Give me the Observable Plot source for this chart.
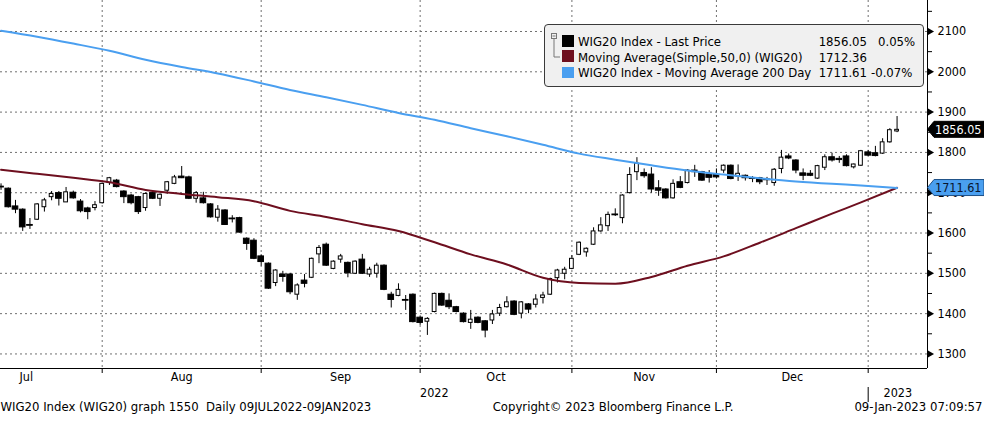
<!DOCTYPE html>
<html>
<head>
<meta charset="utf-8">
<script src="https://cdn.jsdelivr.net/npm/d3@7"></script>
<script src="https://cdn.jsdelivr.net/npm/@observablehq/plot@0.6"></script>
<style>
  html, body { margin: 0; padding: 0; background: #fff; }
  #wrap { position: relative; width: 984px; height: 421px; overflow: hidden;
          font-family: "DejaVu Sans Condensed", "DejaVu Sans", sans-serif; }
  #wrap svg.plot { position: absolute; left: 0; top: 0; }
  #legend { position: absolute; left: 544px; top: 24px; width: 378px; height: 61px;
            background: #f0f0f0; border: 1px solid #3a3a3a; border-radius: 4px;
            font-size: 13px; color: #000; }
  #legend .sw { position: absolute; left: 17px; width: 11.5px; height: 11.5px; }
  #legend .txt { position: absolute; left: 33px; height: 16px; line-height: 16px; white-space: nowrap; }
  #legend .val { position: absolute; right: 56px; height: 16px; line-height: 16px; white-space: nowrap; text-align: right; }
  #legend .pct { position: absolute; height: 16px; line-height: 16px; white-space: nowrap; }
  #legend svg { position: absolute; left: 6px; top: 8px; }
</style>
</head>
<body>
<div id="wrap"></div>
<script>
// ---------------- data ----------------
const candleDates = [
  "2022-07-12","2022-07-13","2022-07-14","2022-07-15","2022-07-18","2022-07-19","2022-07-20","2022-07-21","2022-07-22","2022-07-25","2022-07-26","2022-07-27","2022-07-28","2022-07-29",
  "2022-08-01","2022-08-02","2022-08-03","2022-08-04","2022-08-05","2022-08-08","2022-08-09","2022-08-10","2022-08-11","2022-08-12","2022-08-16","2022-08-17","2022-08-18","2022-08-19","2022-08-22","2022-08-23","2022-08-24","2022-08-25","2022-08-26","2022-08-29","2022-08-30","2022-08-31",
  "2022-09-01","2022-09-02","2022-09-05","2022-09-06","2022-09-07","2022-09-08","2022-09-09","2022-09-12","2022-09-13","2022-09-14","2022-09-15","2022-09-16","2022-09-19","2022-09-20","2022-09-21","2022-09-22","2022-09-23","2022-09-26","2022-09-27","2022-09-28","2022-09-29","2022-09-30",
  "2022-10-03","2022-10-04","2022-10-05","2022-10-06","2022-10-07","2022-10-10","2022-10-11","2022-10-12","2022-10-13","2022-10-14","2022-10-17","2022-10-18","2022-10-19","2022-10-20","2022-10-21","2022-10-24","2022-10-25","2022-10-26","2022-10-27","2022-10-28","2022-10-31",
  "2022-11-02","2022-11-03","2022-11-04","2022-11-07","2022-11-08","2022-11-09","2022-11-10","2022-11-14","2022-11-15","2022-11-16","2022-11-17","2022-11-18","2022-11-21","2022-11-22","2022-11-23","2022-11-24","2022-11-25","2022-11-28","2022-11-29","2022-11-30",
  "2022-12-01","2022-12-02","2022-12-05","2022-12-06","2022-12-07","2022-12-08","2022-12-09","2022-12-12","2022-12-13","2022-12-14","2022-12-15","2022-12-16","2022-12-19","2022-12-20","2022-12-21","2022-12-22","2022-12-23","2022-12-27","2022-12-28","2022-12-29","2022-12-30",
  "2023-01-02","2023-01-03","2023-01-04","2023-01-05","2023-01-09"
];
const openPx = [
  1715,1710,1666,1658,1620,1633,1664,1689,1699,1676,1700,1678,1661,1662,
  1674,1724,1730,1703,1693,1689,1662,1699,1685,1705,1722,1740,1738,1685,1686,1671,1638,1656,1636,1637,1586,1581,
  1542,1524,1476,1497,1497,1447,1482,1489,1547,1571,1511,1534,1526,1499,1534,1497,1499,1519,1447,1444,1434,1447,
  1390,1380,1404,1449,1432,1416,1400,1377,1390,1381,1383,1400,1416,1430,1400,1423,1422,1439,1447,1488,1499,
  1511,1546,1552,1571,1604,1617,1646,1637,1699,1751,1749,1745,1711,1708,1686,1726,1724,1755,1751,1745,
  1744,1755,1767,1740,1742,1736,1736,1733,1724,1759,1790,1780,1748,1747,1735,1762,1788,1784,1790,1763,1767,
  1800,1798,1797,1825,1852
];
const highPx = [
  1722,1712,1681,1660,1636,1673,1686,1703,1703,1713,1704,1683,1664,1678,
  1724,1738,1733,1705,1696,1691,1699,1702,1697,1728,1743,1765,1741,1703,1701,1673,1668,1658,1643,1639,1588,1586,
  1546,1526,1509,1505,1500,1474,1497,1538,1569,1575,1531,1547,1528,1531,1547,1515,1525,1521,1453,1474,1445,1449,
  1392,1390,1451,1451,1449,1418,1402,1408,1392,1383,1408,1423,1442,1432,1430,1425,1447,1453,1488,1510,1515,
  1544,1578,1563,1613,1638,1652,1660,1695,1762,1787,1759,1762,1730,1710,1732,1740,1757,1768,1753,1755,
  1759,1769,1769,1769,1744,1740,1738,1738,1760,1805,1796,1782,1759,1755,1768,1794,1798,1790,1794,1771,1805,
  1805,1815,1834,1859,1889
];
const lowPx = [
  1706,1662,1648,1604,1609,1631,1652,1680,1667,1676,1684,1650,1633,1655,
  1672,1718,1712,1673,1670,1646,1654,1683,1666,1696,1720,1735,1683,1674,1672,1637,1627,1619,1625,1600,1557,1534,
  1518,1460,1467,1478,1447,1433,1464,1487,1524,1517,1509,1525,1489,1497,1497,1490,1488,1457,1414,1442,1408,1377,
  1371,1346,1402,1418,1410,1402,1377,1361,1375,1340,1373,1393,1414,1395,1387,1400,1414,1424,1445,1476,1484,
  1509,1544,1540,1569,1602,1604,1641,1623,1697,1730,1736,1699,1691,1684,1684,1710,1722,1738,1728,1724,
  1734,1748,1732,1728,1729,1725,1720,1718,1716,1747,1782,1747,1730,1740,1733,1755,1776,1773,1764,1759,1765,
  1790,1789,1795,1823,1849
];
const closePx = [
  1713,1664,1658,1614,1618,1671,1681,1697,1685,1701,1686,1654,1652,1669,
  1722,1736,1714,1689,1674,1652,1697,1685,1695,1726,1738,1736,1685,1699,1674,1639,1658,1620,1634,1601,1573,1536,
  1528,1462,1507,1491,1453,1470,1474,1536,1563,1519,1529,1542,1500,1529,1499,1509,1519,1459,1434,1459,1432,1379,
  1377,1387,1449,1420,1416,1404,1379,1385,1377,1358,1398,1414,1428,1397,1428,1410,1435,1445,1486,1507,1509,
  1536,1576,1561,1604,1619,1645,1644,1693,1744,1772,1741,1708,1705,1686,1722,1712,1755,1751,1730,1737,
  1738,1767,1734,1747,1736,1734,1726,1731,1757,1787,1785,1755,1742,1742,1766,1788,1780,1781,1766,1770,1803,
  1792,1791,1825,1855.1,1856.05
];
const maDates = ["2022-07-12","2022-07-19","2022-07-26","2022-08-02","2022-08-09","2022-08-17","2022-08-24","2022-08-31","2022-09-07","2022-09-14","2022-09-21","2022-09-28","2022-10-05","2022-10-12","2022-10-19","2022-10-26","2022-11-03","2022-11-10","2022-11-18","2022-11-25","2022-12-02","2022-12-09","2022-12-16","2022-12-23","2022-12-30","2023-01-09"];
const ma50 = [1757,1747,1737,1726,1707,1697,1689,1679,1655,1640,1622,1605,1577,1547,1522,1489,1476,1474,1491,1519,1542,1576,1612,1648,1676,1712.36];
const ma200 = [2102,2087,2070,2052,2030,2012,1996,1976,1955,1937,1918,1898,1881,1860,1840,1819,1797,1782,1768,1755,1745,1736,1728,1722,1718,1711.61];
const holidays = ["2022-08-15","2022-11-01","2022-11-11","2022-12-26","2023-01-06"];
const yTicks = [1300,1400,1500,1600,1700,1800,1900,2000,2100];
const yMinorTicks = [1350,1450,1550,1650,1750,1850,1950,2050,2150];
const seriesNames = ["WIG20 Index - Last Price","Moving Average(Simple,50,0) (WIG20)","WIG20 Index - Moving Average 200 Day"];
const seriesColors = ["#000000","#6e0f1f","#4a9ff0"];
const pctChanges = ["0.05%", "", "-0.07%"];
const footerLeft = "WIG20 Index (WIG20) graph 1550  Daily 09JUL2022-09JAN2023";
const footerMid = "Copyright\u00A9 2023 Bloomberg Finance L.P.";
const footerRight = "09-Jan-2023 07:09:57";

// -------------- trading calendar (weekdays minus exchange holidays) --------------
const hol = new Set(holidays);
const calendar = d3.utcDays(new Date("2022-07-01"), new Date("2023-01-10"))
  .filter(d => d.getUTCDay() % 6 !== 0)
  .map(d => d.toISOString().slice(0, 10))
  .filter(s => !hol.has(s));
const idxOf = new Map(calendar.map((s, i) => [s, i]));
const monthStarts = calendar.map((s, i) => [s, i]).filter(([s], i, a) => i === 0 || s.slice(0, 7) !== a[i - 1][0].slice(0, 7));
const xLo = 6.926, xHi = 135.21;
const janStart = monthStarts.find(([s]) => s.startsWith("2023-01"))[1];
const monthLabels = monthStarts.slice(0, -1).map(([s, i], k) => ({
  name: d3.utcFormat("%b")(new Date(s)), mid: (i + monthStarts[k + 1][1]) / 2
}));
const yearLabels = [{name: "2022", mid: (xLo + janStart) / 2}, {name: "2023", mid: (janStart + xHi) / 2}];

const candles = candleDates.map((d, k) => ({i: idxOf.get(d), o: openPx[k], h: highPx[k], l: lowPx[k], c: closePx[k]}));
const up = candles.filter(d => d.c >= d.o);
const down = candles.filter(d => d.c < d.o);
const ma50Data = maDates.map((d, k) => ({i: idxOf.get(d), v: ma50[k]}));
const ma200Data = maDates.map((d, k) => ({i: idxOf.get(d), v: ma200[k]}));

const lastPrice = closePx[closePx.length - 1];
const lastMa50 = ma50[ma50.length - 1];
const lastMa200 = ma200[ma200.length - 1];
const FONT = '"DejaVu Sans Condensed", "DejaVu Sans", sans-serif';

const callouts = [
  {value: lastPrice, fill: "#000", stroke: "#000", text: "#fff"},
  {value: lastMa200, fill: "#4a9ff0", stroke: "#1d4f86", text: "#08152e"}
];

function calloutMark(index, scales, values, dims) {
  const g = d3.create("svg:g");
  const x0 = dims.width - dims.marginRight;
  for (const c of callouts) {
    const y = scales.y(c.value);
    g.append("path")
      .attr("d", `M${x0 + 0.5},${y}L${x0 + 7},${y - 8}H${dims.width}V${y + 8}H${x0 + 7}Z`)
      .attr("fill", c.fill).attr("stroke", c.stroke).attr("stroke-width", 1);
    g.append("text")
      .attr("x", x0 + 8).attr("y", y).attr("dy", "0.36em")
      .attr("text-anchor", "start")
      .attr("fill", c.text).attr("font-size", 12.5).attr("font-family", FONT)
      .text(c.value.toFixed(2));
  }
  return g.node();
}

const H = 421, W = 984, mR = 57, mB = 53;
const frameH = H - mB;

const chart = Plot.plot({
  width: W, height: H,
  marginTop: 0, marginLeft: 0, marginRight: mR, marginBottom: mB,
  x: {type: "linear", domain: [xLo, xHi], axis: null},
  y: {type: "linear", domain: [1263.9, 2176.9], axis: null},
  style: {fontFamily: FONT, fontSize: "12.5px", color: "#000", background: "transparent", overflow: "visible"},
  marks: [
    Plot.gridY(yTicks, {stroke: "#707070", strokeOpacity: 1, strokeDasharray: "2,3"}),
    Plot.gridX(monthStarts.map(d => d[1]), {stroke: "#707070", strokeOpacity: 1, strokeDasharray: "2,3"}),
    // candles
    Plot.ruleX(candles, {x: "i", y1: "l", y2: "h", stroke: "#000", strokeWidth: 1, clip: true}),
    Plot.rect(down, {x1: d => d.i - 0.39, x2: d => d.i + 0.39, y1: "o", y2: "c", fill: "#000", stroke: "#000", strokeWidth: 1, clip: true}),
    Plot.rect(up, {x1: d => d.i - 0.26, x2: d => d.i + 0.26, y1: "o", y2: "c", fill: "#fff", stroke: "#000", strokeWidth: 1, clip: true}),
    // moving averages
    Plot.line(ma50Data, {x: "i", y: "v", stroke: seriesColors[1], strokeWidth: 2, curve: "monotone-x", clip: true}),
    Plot.line(ma200Data, {x: "i", y: "v", stroke: seriesColors[2], strokeWidth: 2, curve: "monotone-x", clip: true}),
    // frame lines
    Plot.ruleX([xHi], {stroke: "#000", strokeWidth: 1}),
    Plot.ruleY([1263.9], {stroke: "#000", strokeWidth: 1}),
    // right axis
    Plot.axisY(yMinorTicks, {anchor: "right", tickSize: 4, tickFormat: () => ""}),
    Plot.axisY(yTicks, {anchor: "right", tickSize: 0, tickPadding: 10, fontSize: 12.5, tickFormat: d => String(d)}),
    Plot.dot(yTicks, {y: d => d, frameAnchor: "right", symbol: "triangle", rotate: 90, r: 2.6, fill: "#000", stroke: null, dx: 2.5}),
    // bottom axis
    Plot.axisX(monthStarts.map(d => d[1]), {anchor: "bottom", tickSize: 5, tickFormat: () => ""}),
    Plot.text(monthLabels, {x: "mid", text: "name", frameAnchor: "bottom", dy: 12, fontSize: 12.5}),
    Plot.text(yearLabels, {x: "mid", text: "name", frameAnchor: "bottom", dy: 28, fontSize: 12.5}),
    Plot.ruleX([janStart], {stroke: "#000", strokeWidth: 1, insetTop: frameH - 15, dy: 34}),
    // footer
    Plot.text([footerLeft], {text: d => d, frameAnchor: "bottom-left", textAnchor: "start", dy: 42, fontSize: 13}),
    Plot.text([footerMid], {text: d => d, frameAnchor: "bottom", textAnchor: "middle", dx: 149, dy: 42, fontSize: 13}),
    Plot.text([footerRight], {text: d => d, frameAnchor: "bottom-right", textAnchor: "end", dx: 55, dy: 42, fontSize: 13}),
    calloutMark
  ]
});
chart.classList.add("plot");
const wrap = document.getElementById("wrap");
wrap.appendChild(chart);

// legend (HTML overlay)
const legend = document.createElement("div");
legend.id = "legend";
const rowTop = [9, 24.7, 40.3];
const swTop = [10, 25, 41.7];
const vals = [lastPrice, lastMa50, lastMa200];
const pctLeft = [333, null, 326];
let html = `<svg width="12" height="30"><rect x="0.5" y="0.5" width="5" height="5" fill="#f0f0f0" stroke="#777"/><line x1="1.5" y1="3" x2="4.5" y2="3" stroke="#777"/><path d="M3,6V24H9" fill="none" stroke="#777"/></svg>`;
seriesNames.forEach((name, k) => {
  html += `<div class="sw" style="top:${swTop[k]}px;background:${seriesColors[k]}"></div>`;
  html += `<div class="txt" style="top:${rowTop[k]}px">${name}</div>`;
  html += `<div class="val" style="top:${rowTop[k]}px">${vals[k].toFixed(2)}</div>`;
  if (pctChanges[k]) html += `<div class="pct" style="top:${rowTop[k]}px;left:${pctLeft[k]}px">${pctChanges[k]}</div>`;
});
legend.innerHTML = html;
wrap.appendChild(legend);
</script>
</body>
</html>
